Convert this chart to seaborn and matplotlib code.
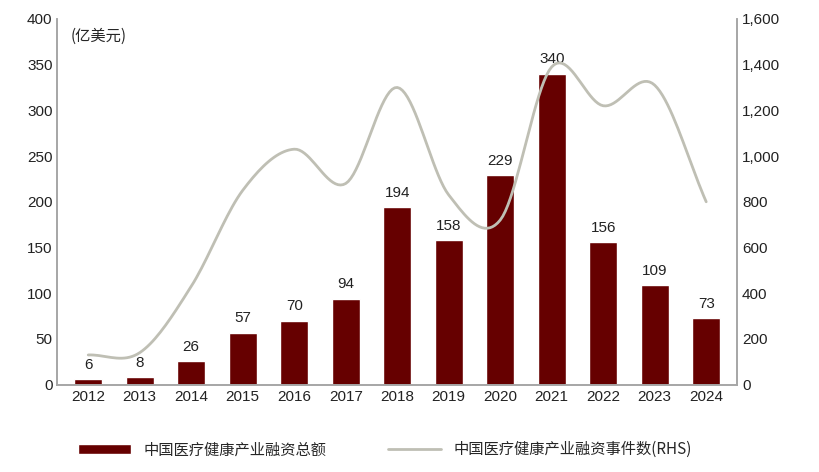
import numpy as np
import pandas as pd
import matplotlib
matplotlib.use("Agg")
import matplotlib.pyplot as plt
import seaborn as sns

years = [str(y) for y in range(2012, 2025)]
amount = [6, 8, 26, 57, 70, 94, 194, 158, 229, 340, 156, 109, 73]
events = [130, 140, 430, 850, 1030, 880, 1300, 830, 720, 1390, 1220, 1310, 800]

sns.set_style("white")
plt.rcParams["font.family"] = ["Noto Sans CJK SC", "DejaVu Sans"]

BAR = "#660000"
LINE = "#bfbfb4"
AX = "#a6a6a6"
NUM = ["Liberation Sans", "DejaVu Sans"]


def smooth(x, y, n=20):
    # Catmull-Rom through the data points, for drawing only
    x = np.asarray(x, float)
    y = np.asarray(y, float)
    px = np.concatenate([[2 * x[0] - x[1]], x, [2 * x[-1] - x[-2]]])
    py = np.concatenate([[2 * y[0] - y[1]], y, [2 * y[-1] - y[-2]]])
    xs, ys = [], []
    t = np.linspace(0, 1, n, endpoint=False)
    for i in range(1, len(px) - 2):
        for arr, out in ((px, xs), (py, ys)):
            p0, p1, p2, p3 = arr[i - 1:i + 3]
            out.extend(0.5 * (2 * p1 + (-p0 + p2) * t + (2 * p0 - 5 * p1 + 4 * p2 - p3) * t ** 2
                              + (-p0 + 3 * p1 - 3 * p2 + p3) * t ** 3))
    xs.append(x[-1])
    ys.append(y[-1])
    return np.array(xs), np.array(ys)


df = pd.DataFrame({"year": years, "amount": amount})
fig, ax = plt.subplots(figsize=(8.19, 4.72), dpi=100)
sns.barplot(data=df, x="year", y="amount", color=BAR, width=0.55, ax=ax,
            label="中国医疗健康产业融资总额", saturation=1, legend=False)
for i, v in enumerate(amount):
    ax.text(i, v + 8, str(v), ha="center", va="bottom", fontsize=11, color="#222222", family=NUM)

ax2 = ax.twinx()
sx, sy = smooth(range(len(years)), events)
ax2.plot(sx, sy, color=LINE, lw=2, label="中国医疗健康产业融资事件数(RHS)")

ax.set_ylim(0, 400)
ax.set_yticks(range(0, 401, 50))
ax2.set_ylim(0, 1600)
ax2.set_yticks(range(0, 1601, 200))
ax2.set_yticklabels([f"{v:,}" for v in range(0, 1601, 200)])
ax.set_xlim(-0.6, len(years) - 0.4)
ax.set_xlabel("")
ax.set_ylabel("")
if ax.get_legend():
    ax.get_legend().remove()
for a in (ax, ax2):
    a.spines["top"].set_visible(False)
    for s in ("left", "right", "bottom"):
        a.spines[s].set_color(AX)
        a.spines[s].set_linewidth(1.2)
    a.tick_params(labelsize=11, colors="#222222", length=0)
    for lbl in a.get_yticklabels() + a.get_xticklabels():
        lbl.set_family(NUM)
ax.text(0.02, 0.975, "(亿美元)", transform=ax.transAxes, fontsize=11, va="top")

h1, l1 = ax.get_legend_handles_labels()
h2, l2 = ax2.get_legend_handles_labels()
fig.legend(h1 + h2, l1 + l2, loc="lower center", ncol=2, frameon=False, fontsize=11,
           bbox_to_anchor=(0.47, 0.0), columnspacing=4, handlelength=3.5)
fig.subplots_adjust(left=0.07, right=0.9, top=0.96, bottom=0.185)
fig.savefig("out.png", dpi=100)
